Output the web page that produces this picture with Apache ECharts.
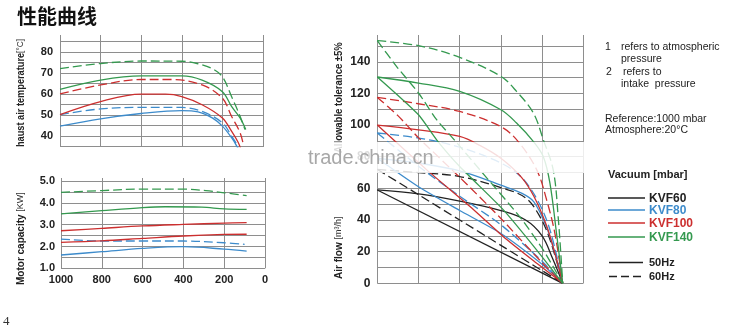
<!DOCTYPE html>
<html><head><meta charset="utf-8">
<script src="https://cdn.jsdelivr.net/npm/echarts@6/dist/echarts.min.js"></script>
<style>html,body{margin:0;padding:0;background:#fff}#c{width:749px;height:330px}</style>
</head><body><div id="c"></div>
<script>
// ---------- labels ----------
const models = ['KVF60', 'KVF80', 'KVF100', 'KVF140'];
const modelColors = ['#222222', '#3d8bcb', '#cc2f2f', '#34994f'];
const freqNames = ['50Hz', '60Hz'];
const tempXTicks = [1000, 800, 600, 400, 200, 0];

// ---------- Exhaust air temperature [°C] vs pressure [mbar] ----------
const temp80_50  = [[1000,44.8],[800,48.3],[600,50.8],[400,52.2],[320,51.6],[250,48.7],[200,44.8],[155,39.3],[130,35.4],[118,32]];
const temp80_60  = [[1000,50.3],[800,53.0],[600,53.7],[400,53.7],[300,51.8],[200,46.4],[155,40.1],[130,36.2],[118,33]];
const temp100_50 = [[1000,50.3],[800,56.5],[600,60.0],[480,60.0],[400,58.9],[300,55.0],[200,48.7],[155,42.4],[122,37.0],[110,34]];
const temp100_60 = [[1000,60.1],[800,64.4],[600,67.0],[450,67.0],[300,64.4],[200,58.1],[155,49.5],[113,41.7],[97,36.2]];
const temp140_50 = [[1000,62.3],[800,66.7],[600,68.7],[400,68.7],[300,66.7],[200,61.2],[155,54.2],[113,48.7],[85,43.2]];
const temp140_60 = [[1000,72.2],[800,74.6],[600,75.8],[400,75.7],[320,74.5],[250,72.2],[200,68.3],[155,58.9],[113,49.5],[89,43.2]];

// ---------- Motor capacity [KW] vs pressure [mbar] ----------
const kw80_50  = [[1000,1.61],[800,1.76],[600,1.91],[400,1.99],[200,1.88],[90,1.79]];
const kw80_60  = [[1000,2.34],[800,2.25],[600,2.25],[400,2.25],[200,2.17],[100,2.10]];
const kw100_a  = [[1000,2.19],[800,2.26],[600,2.37],[400,2.48],[200,2.55],[90,2.56]];
const kw100_b  = [[1000,2.72],[800,2.83],[600,2.94],[400,3.01],[200,3.07],[90,3.09]];
const kw140_50 = [[1000,3.49],[800,3.64],[600,3.78],[490,3.82],[310,3.80],[200,3.72],[90,3.70]];
const kw140_60 = [[1000,4.48],[800,4.56],[600,4.63],[400,4.63],[290,4.56],[200,4.46],[90,4.33]];

// ---------- Air flow [m³/h] (right chart, x = unlabeled grid units) ----------
const af60_50c  = [[0,59],[1,56.5],[2,52],[3,46],[3.6,40],[4.0,30],[4.25,16],[4.5,0]];
const af60_60c  = [[0,72],[1,70],[2,67.5],[3,60.5],[3.6,54],[3.95,42],[4.2,27],[4.5,0]];
const af60_50s  = [[0,59],[4.5,0]];
const af60_60s  = [[0,72],[1,56],[2,40],[3,24],[4,8],[4.5,0]];
const af80_50c  = [[0,79],[1,76],[2,71],[3,62],[3.5,57],[3.8,51.5],[4.1,36],[4.3,20],[4.5,0]];
const af80_60c  = [[0,95],[1,91.8],[2,86],[3,76],[3.5,67],[3.9,52],[4.2,33],[4.5,0]];
const af80_50s  = [[0,79],[1,61],[2,46],[3,31.5],[4,12],[4.5,0]];
const af80_60s  = [[0,95],[1,74],[2,55],[3,37],[4,14],[4.5,0]];
const af100_50c = [[0,100],[1,97],[2,92.8],[2.5,87],[3,79],[3.5,67],[3.8,55],[4.1,37],[4.3,20],[4.5,0]];
const af100_60c = [[0,117.5],[1,113.5],[2,108.6],[3,99],[3.42,89.6],[3.87,71.7],[4.11,52.7],[4.31,31.6],[4.5,0]];
const af100_50s = [[0,100],[1.2,71.7],[2.25,48.5],[3.06,29.5],[3.87,12.7],[4.5,0]];
const af100_60s = [[0,117.5],[0.5,106],[1,92],[2,67],[3,41],[4,13],[4.5,0]];
const af140_50c = [[0,130.4],[1,126.6],[2,121.3],[3,109.7],[3.38,101.3],[3.79,89.6],[4.03,80],[4.19,63.3],[4.35,31.6],[4.5,0]];
const af140_60c = [[0,153.4],[1,150.2],[2,142.8],[3,130.8],[3.38,121.3],[3.79,107.6],[4.03,90.7],[4.27,71.7],[4.39,42],[4.5,0]];
const af140_50s = [[0,130.4],[1,106.5],[1.44,90.7],[2,73.8],[3.06,46.4],[3.87,21],[4.5,0]];
const af140_60s = [[0,153.4],[0.47,137],[1,120.3],[1.44,103.4],[1.94,88.6],[2.49,71.7],[3.46,42],[4.03,21],[4.5,0]];

// ---------- chart ----------
const FONT = "'Liberation Sans', Arial, sans-serif";
const GRIDC = '#8e8e8e';
const chart = echarts.init(document.getElementById('c'), null, {renderer: 'canvas'});

function line(data, colorIdx, dashed, axis, smooth) {
  return {
    type: 'line', data: data, xAxisIndex: axis, yAxisIndex: axis,
    symbol: 'none', smooth: smooth, clip: axis !== 5, silent: true,
    lineStyle: {color: modelColors[colorIdx], width: 1.3, type: dashed ? [9, 4] : 'solid'}
  };
}
const split = {show: true, lineStyle: {color: GRIDC, width: 1}};
const noLine = {show: false};
const lbl = (fmt, margin) => ({show: true, fontFamily: FONT, fontWeight: 'bold', fontSize: 11, color: '#222', margin: margin, formatter: fmt});

const grids = [
  {left: 60, top: 35, width: 203, height: 112},
  {left: 60, top: 41.7, width: 203, height: 105},
  {left: 61, top: 178, width: 204, height: 90.3},
  {left: 61, top: 181, width: 204, height: 87.3},
  {left: 377.3, top: 35, width: 206, height: 248.3},
  {left: 377.3, top: 46, width: 206, height: 237.3}
];
const pX = (g, showSplit, label) => ({
  gridIndex: g, type: 'value', min: 0, max: 1000, interval: 200, inverse: true,
  axisLine: noLine, axisTick: noLine, splitLine: showSplit ? split : noLine,
  axisLabel: label ? lbl(v => tempXTicks.indexOf(v) >= 0 ? String(v) : '', 6) : {show: false}
});
const xAxes = [
  pX(0, true, false), pX(1, false, false), pX(2, true, true), pX(3, false, false),
  {gridIndex: 4, type: 'value', min: 0, max: 5, interval: 1, axisLine: noLine, axisTick: noLine, axisLabel: {show: false}, splitLine: split},
  {gridIndex: 5, type: 'value', min: 0, max: 5, interval: 1, axisLine: noLine, axisTick: noLine, axisLabel: {show: false}, splitLine: noLine}
];
const hidden = g => ({gridIndex: g, type: 'value', show: false, min: 0, max: 1, splitLine: noLine});
const yAxes = [
  hidden(0),
  {gridIndex: 1, type: 'value', min: 35, max: 85, interval: 5, axisLine: noLine, axisTick: noLine, splitLine: split,
   axisLabel: lbl(v => (v % 10 === 0 && v >= 40 && v <= 80) ? String(v) : '', 7)},
  hidden(2),
  {gridIndex: 3, type: 'value', min: 1, max: 5, interval: 0.5, axisLine: noLine, axisTick: noLine, splitLine: split,
   axisLabel: lbl(v => (Math.abs(v - Math.round(v)) < 1e-6) ? v.toFixed(1) : '', 6)},
  hidden(4),
  {gridIndex: 5, type: 'value', min: 0, max: 150, interval: 10, axisLine: noLine, axisTick: noLine, splitLine: split,
   axisLabel: Object.assign(lbl(v => (v % 20 === 0 && v <= 140) ? String(v) : '', 7), {fontSize: 12})}
];

const series = [
  line(temp80_50, 1, false, 1, 0.35), line(temp80_60, 1, true, 1, 0.35),
  line(temp100_50, 2, false, 1, 0.35), line(temp100_60, 2, true, 1, 0.35),
  line(temp140_50, 3, false, 1, 0.35), line(temp140_60, 3, true, 1, 0.35),
  line(kw80_50, 1, false, 3, 0.35), line(kw80_60, 1, true, 3, 0.35),
  line(kw100_a, 2, false, 3, 0.35), line(kw100_b, 2, false, 3, 0.35),
  line(kw140_50, 3, false, 3, 0.35), line(kw140_60, 3, true, 3, 0.35),
  line(af60_50c, 0, false, 5, 0.35), line(af60_60c, 0, true, 5, 0.35),
  line(af60_50s, 0, false, 5, 0), line(af60_60s, 0, true, 5, 0.2),
  line(af80_50c, 1, false, 5, 0.35), line(af80_60c, 1, true, 5, 0.35),
  line(af80_50s, 1, false, 5, 0.2), line(af80_60s, 1, true, 5, 0.2),
  line(af100_50c, 2, false, 5, 0.35), line(af100_60c, 2, true, 5, 0.35),
  line(af100_50s, 2, false, 5, 0.2), line(af100_60s, 2, true, 5, 0.2),
  line(af140_50c, 3, false, 5, 0.35), line(af140_60c, 3, true, 5, 0.35),
  line(af140_50s, 3, false, 5, 0.2), line(af140_60s, 3, true, 5, 0.2)
];

// ---------- decorations / texts ----------
const T = (x, y, text, font, fill, extra) => Object.assign({type: 'text', x: x, y: y, z: 120,
  style: Object.assign({text: text, font: font, fill: fill || '#222', align: 'left', verticalAlign: 'middle'}, extra || {})});
const richV = {
  a: {fontFamily: FONT, fontWeight: 'bold', fontSize: 10, fill: '#222'},
  b: {fontFamily: FONT, fontWeight: 'normal', fontSize: 9, fill: '#333'}
};
const vText = (x, y, text, sx) => ({type: 'text', x: x, y: y, rotation: Math.PI / 2, scaleX: sx || 1, z: 100,
  style: {text: text, rich: richV, fill: '#222', align: 'left', verticalAlign: 'middle'}});
const L = (x1, x2, y, color, dashed) => ({type: 'line', z: 120, shape: {x1: x1, y1: y, x2: x2, y2: y},
  style: {stroke: color, lineWidth: 1.3, lineDash: dashed ? [8, 4] : null}});
const legY = [198, 210, 223, 237];
const graphic = [
  T(17, 16, '性能曲线', "bold 20px 'Noto Sans CJK SC'", '#111'),
  T(3, 322, '4', "13px 'Liberation Serif', serif", '#333'),
  vText(21, 147, '{a|haust air temperature}{b|[°C]}', 0.92),
  vText(21, 285, '{a|Motor capacity }{b|[KW]}', 1),
  vText(339, 153, '{a|Allowable tolerance ±5%}', 0.95),
  vText(339, 279, '{a|Air flow }{b|[m³/h]}', 1),
  {type: 'rect', z: 110, shape: {x: 300, y: 142, width: 292, height: 31}, style: {fill: 'rgba(255,255,255,0.84)'}},
  T(308, 158, 'trade.china.cn', "20px " + FONT, '#a8a8a8'),
  T(605, 47, '1', "10.5px " + FONT), T(621, 47, 'refers to atmospheric', "10.5px " + FONT),
  T(621, 59.5, 'pressure', "10.5px " + FONT),
  T(606, 72, '2', "10.5px " + FONT), T(623, 72, 'refers to', "10.5px " + FONT),
  T(621, 84, 'intake  pressure', "10.5px " + FONT),
  T(605, 119.5, 'Reference:1000 mbar', "10.5px " + FONT),
  T(605, 130, 'Atmosphere:20°C', "10.5px " + FONT),
  T(608, 175, 'Vacuum [mbar]', "bold 11px " + FONT)
];
models.forEach((m, i) => {
  graphic.push(L(608, 645, legY[i], modelColors[i], false));
  graphic.push(T(649, legY[i] + 0.5, m, "bold 12px " + FONT, modelColors[i]));
});
graphic.push(L(609, 643, 262.5, '#222', false));
graphic.push(T(649, 263, freqNames[0], "bold 11px " + FONT, '#222'));
graphic.push(L(609, 643, 276.5, '#222', true));
graphic.push(T(649, 277, freqNames[1], "bold 11px " + FONT, '#222'));

chart.setOption({
  animation: false,
  backgroundColor: '#fff',
  grid: grids,
  xAxis: xAxes,
  yAxis: yAxes,
  series: series,
  graphic: graphic
});
</script></body></html>
